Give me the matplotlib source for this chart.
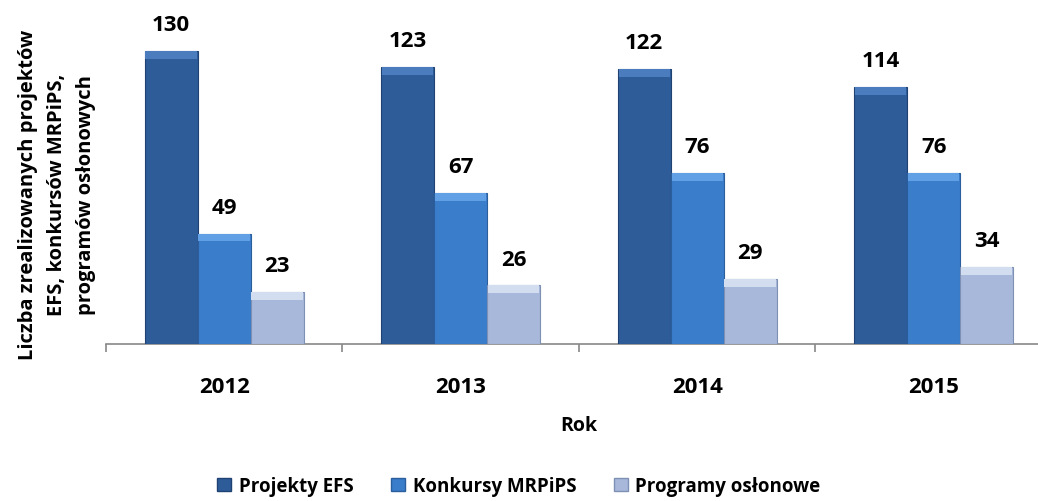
import numpy as np
import matplotlib
matplotlib.use("Agg")
import matplotlib.pyplot as plt
from matplotlib.patches import Patch

plt.rcParams['font.family'] = ['Open Sans', 'DejaVu Sans']
plt.rcParams['font.weight'] = 'bold'

years = ['2012', '2013', '2014', '2015']
projekty_efs = [130, 123, 122, 114]
konkursy = [49, 67, 76, 76]
programy = [23, 26, 29, 34]

# name, values, face, edge, bevel highlight
series = [
    ('Projekty EFS', projekty_efs, '#2D5C99', '#1F4272', '#4A7CBE'),
    ('Konkursy MRPiPS', konkursy, '#3A7DCB', '#2A5E9C', '#62A0E6'),
    ('Programy osłonowe', programy, '#A8B8DA', '#7F90B5', '#D3DDF0'),
]

fig = plt.figure(figsize=(10.38, 5.02), dpi=100)
ax = fig.add_axes([0.102, 0.3127, 0.9115, 0.6873])

x = np.arange(len(years))
w = 0.224
bevel = 3.5
for i, (name, vals, col, edge, hi) in enumerate(series):
    pos = x + (i - 1) * w
    bars = ax.bar(pos, vals, width=w, color=col, edgecolor=edge, linewidth=0.8, label=name, zorder=3)
    # lighter strip at the top, like the bevel in the original
    ax.bar(pos, bevel, bottom=np.array(vals) - bevel, width=w * 0.97, color=hi, linewidth=0, zorder=4)
    for b, v in zip(bars, vals):
        ax.annotate(str(v), (b.get_x() + b.get_width() / 2, v), xytext=(0, 19),
                    textcoords='offset points', ha='center', va='center',
                    fontsize=16, fontweight='bold', color='black')

ax.set_xlim(-0.5, 3.5)
ax.set_ylim(0, 153)
ax.set_yticks([])
for s in ['top', 'right', 'left']:
    ax.spines[s].set_visible(False)
ax.spines['bottom'].set_color('#888888')
ax.spines['bottom'].set_linewidth(1.2)

ax.set_xticks(x)
ax.set_xticklabels(years, fontsize=16, fontweight='bold')
ax.tick_params(axis='x', which='major', length=0, pad=23)
ax.set_xticks(np.arange(-0.5, 4.0, 1.0), minor=True)
ax.tick_params(axis='x', which='minor', length=6, width=1.2, color='#888888', direction='out')
ax.set_xlabel('Rok', fontsize=14, fontweight='bold', labelpad=13)

fig.text(0.055, 1 - 195 / 502,
         'Liczba zrealizowanych projektów\nEFS, konkursów MRPiPS,\nprogramów osłonowych',
         rotation=90, ha='center', va='center', multialignment='center',
         fontsize=14.5, fontweight='bold', linespacing=1.6)

handles = [Patch(facecolor=c, edgecolor=e, label=n) for n, _, c, e, _ in series]
fig.legend(handles=handles, loc='center', bbox_to_anchor=(0.5, 1 - 487 / 502), ncol=3,
           frameon=False, fontsize=13.5, handlelength=0.75, handleheight=0.75,
           handletextpad=0.4, columnspacing=2.0)

fig.savefig('out.png', dpi=100)
